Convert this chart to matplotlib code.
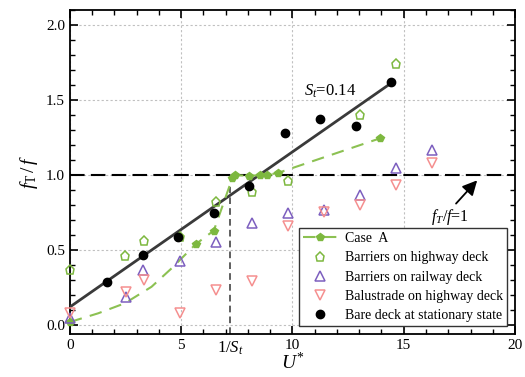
import numpy as np
import matplotlib
matplotlib.use("Agg")
import matplotlib.pyplot as plt
from matplotlib.ticker import MultipleLocator

plt.rcParams['font.family'] = ['Liberation Serif', 'DejaVu Serif']
plt.rcParams['mathtext.fontset'] = 'custom'
plt.rcParams['mathtext.rm'] = 'Liberation Serif'
plt.rcParams['mathtext.it'] = 'Liberation Serif:italic'

# =========================
# DATA
# =========================
# Case A: markers and the dashed curve through them
caseA_x = [0.0, 5.66, 6.47, 7.3, 7.42, 8.06, 8.54, 8.84, 9.36, 13.93]
caseA_y = [0.02, 0.54, 0.63, 0.98, 1.0, 0.995, 1.0, 1.0, 1.015, 1.245]
caseA_curve_x = [0.0, 1.27, 2.47, 3.67, 4.57, 5.66, 6.47, 7.3, 7.42, 8.06, 8.54, 8.84, 9.36, 13.93]
caseA_curve_y = [0.02, 0.078, 0.145, 0.255, 0.378, 0.54, 0.63, 0.98, 1.0, 0.995, 1.0, 1.0, 1.015, 1.245]

hwy_x = [0.0, 2.5, 3.33, 4.94, 6.56, 8.2, 9.78, 13.03, 14.65]
hwy_y = [0.37, 0.46, 0.56, 0.585, 0.82, 0.885, 0.96, 1.40, 1.74]

rail_x = [0.0, 2.52, 3.3, 4.93, 6.56, 8.17, 9.78, 11.4, 13.03, 14.64, 16.27]
rail_y = [0.05, 0.185, 0.367, 0.43, 0.555, 0.68, 0.745, 0.77, 0.867, 1.05, 1.17]

bal_x = [0.0, 2.52, 3.33, 4.93, 6.56, 8.17, 9.78, 11.4, 13.03, 14.64, 16.27]
bal_y = [0.08, 0.22, 0.30, 0.08, 0.233, 0.295, 0.66, 0.753, 0.80, 0.933, 1.08]

bare_x = [1.66, 3.29, 4.85, 6.47, 8.05, 9.66, 11.24, 12.84, 14.43]
bare_y = [0.29, 0.47, 0.59, 0.75, 0.93, 1.28, 1.373, 1.33, 1.62]

# St fit line ends
fit_x = [0.0, 14.4]
fit_y = [0.12, 1.61]

inv_st = 7.2

# =========================
# PLOT
# =========================
fig = plt.figure(figsize=(5.25, 3.77), dpi=100)
ax = fig.add_axes([0.133, 0.114, 0.848, 0.859])

green = '#8cc152'
green_d = '#7db83f'
purple = '#7d5fbf'
pink = '#f58f8f'

ax.grid(True, which='major', color='#c0c0c0', linestyle=(0, (2, 2)), linewidth=0.8)
ax.set_axisbelow(True)

ax.axhline(1.0, color='black', linestyle=(0, (7, 3)), linewidth=1.5, zorder=2)
ax.plot([inv_st, inv_st], [-0.06, 0.92], color='#444444', linestyle=(0, (4, 2.5)), linewidth=1.2, zorder=2)

ax.plot(fit_x, fit_y, color='#3a3a3a', linewidth=2, zorder=3)

ax.plot(caseA_curve_x, caseA_curve_y, color=green, linestyle=(0, (6, 4)), linewidth=1.5, zorder=3)
ax.plot(caseA_x, caseA_y, linestyle='none', marker='p', markersize=6,
        color=green_d, zorder=4, clip_on=False)
# legend proxy for Case A
ax.plot([], [], color=green, linestyle=(0, (6, 4)), linewidth=1.5, marker='p',
        markersize=6, markerfacecolor=green_d, markeredgecolor=green_d, label='Case  A')

ax.plot(hwy_x, hwy_y, linestyle='none', marker='p', markersize=6.5, markerfacecolor='none',
        markeredgecolor=green_d, markeredgewidth=1.1, label='Barriers on highway deck', zorder=4, clip_on=False)
ax.plot(rail_x, rail_y, linestyle='none', marker='^', markersize=7, markerfacecolor='none',
        markeredgecolor=purple, markeredgewidth=1.1, label='Barriers on railway deck', zorder=4, clip_on=False)
ax.plot(bal_x, bal_y, linestyle='none', marker='v', markersize=7, markerfacecolor='none',
        markeredgecolor=pink, markeredgewidth=1.1, label='Balustrade on highway deck', zorder=4, clip_on=False)
ax.plot(bare_x, bare_y, linestyle='none', marker='o', markersize=6, color='black',
        label='Bare deck at stationary state', zorder=5)

ax.set_xlim(0, 20)
ax.set_ylim(-0.06, 2.1)
ax.xaxis.set_major_locator(MultipleLocator(5))
ax.xaxis.set_minor_locator(MultipleLocator(1))
ax.yaxis.set_major_locator(MultipleLocator(0.5))
ax.yaxis.set_minor_locator(MultipleLocator(0.1))
ax.tick_params(which='both', direction='in', top=True, right=True, labelsize=11)
ax.tick_params(which='major', length=6, width=1.2)
ax.tick_params(which='minor', length=3.5, width=1.0)
ax.yaxis.set_major_formatter(matplotlib.ticker.FormatStrFormatter('%.1f'))
for s in ax.spines.values():
    s.set_linewidth(1.3)

ax.set_xlabel(r'$U^{*}$', fontsize=14, labelpad=0)
ax.set_ylabel(r'$f_{\mathrm{T}}\,/\,f$', fontsize=14, labelpad=4)

ax.text(inv_st, -0.1, r'$1/S_t$', fontsize=12, ha='center', va='top')
ax.text(10.5, 1.53, r'$S_t$=0.14', fontsize=12, ha='left', va='baseline')

ax.text(17.1, 0.72, r'$f_T/f$=1', fontsize=11.5, ha='center', va='center', zorder=7)
ax.annotate('', xy=(18.3, 0.965), xytext=(17.35, 0.81),
            arrowprops=dict(arrowstyle='-|>', color='black', lw=1.3, mutation_scale=22,
                            shrinkA=0, shrinkB=0))

leg = ax.legend(loc='lower right', fontsize=10, frameon=True, fancybox=False,
                edgecolor='#333333', framealpha=1, borderaxespad=0.55,
                handlelength=2.4, handletextpad=0.6, labelspacing=0.45, borderpad=0.3)
leg.get_frame().set_linewidth(1.0)
leg.set_zorder(6)

fig.savefig('out.png', dpi=100)
